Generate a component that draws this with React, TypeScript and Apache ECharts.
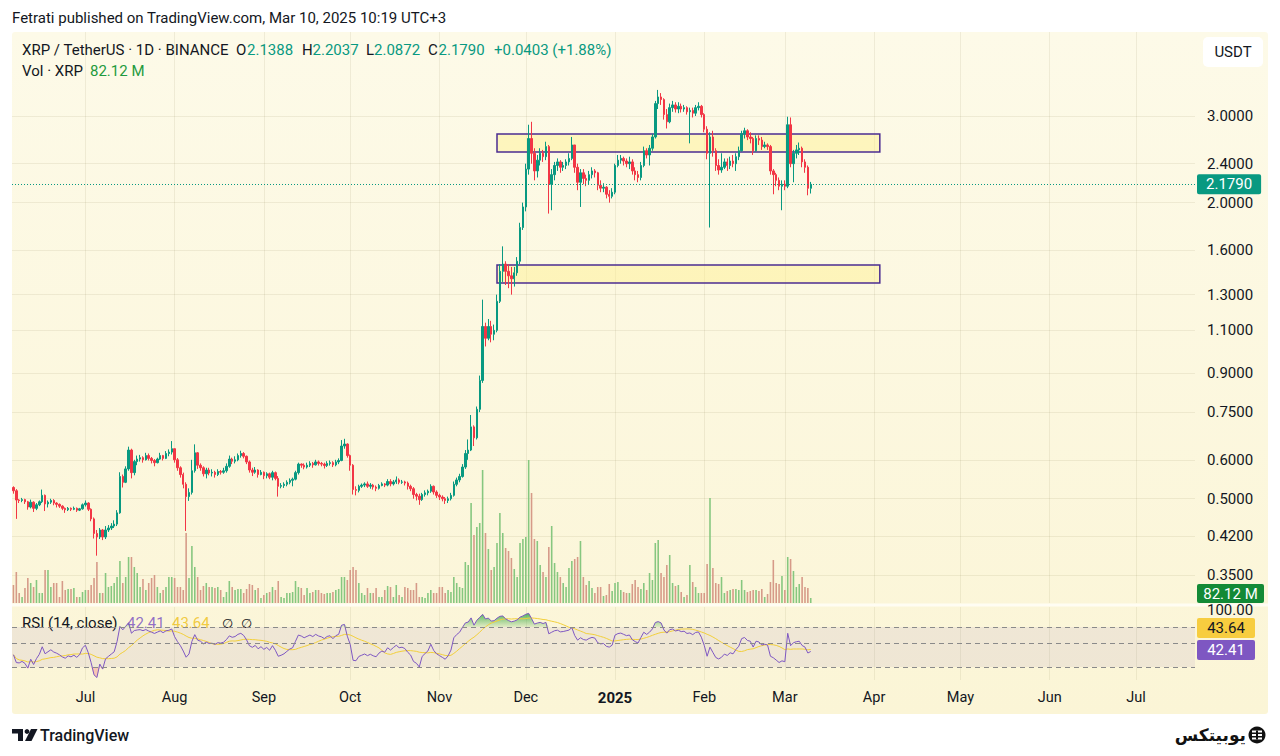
import React, { useEffect, useRef } from "react";
import * as echarts from "echarts";

const FONT = "Roboto, 'Noto Sans', 'DejaVu Sans', sans-serif";
const INK = "#131722";
const UP = "#089981";
const DOWN = "#f23645";
const VOL_UP = "#86c77f";
const VOL_DOWN = "#d69a88";
const GRID_COLOR = "rgba(120,110,60,0.10)";

const START_DATE = Date.UTC(2024, 5, 6);
const AXIS_DAYS = 411;
const FIRST_OPEN = 0.527;

// daily candles: [close, high, low]  (open = previous close)
const jun24 = [[.519,.530,.512],[.497,.523,.455],[.496,.499,.490],[.498,.502,.492],[.493,.500,.488],[.481,.495,.475],[.492,.498,.478],[.478,.494,.470],[.486,.490,.474],[.493,.496,.483],[.508,.522,.490],[.488,.510,.472],[.492,.496,.480],[.496,.500,.488],[.490,.499,.485],[.487,.492,.480],[.483,.489,.479],[.478,.485,.474],[.475,.480,.468],[.478,.481,.472],[.476,.480,.472],[.478,.482,.474],[.474,.480,.470],[.477,.479,.472],[.486,.489,.475]];
const jul24 = [[.490,.496,.482],[.476,.492,.472],[.455,.478,.450],[.425,.458,.415],[.418,.432,.383],[.432,.436,.414],[.418,.434,.412],[.432,.440,.414],[.436,.442,.428],[.440,.446,.432],[.444,.452,.436],[.468,.474,.440],[.555,.566,.466],[.540,.560,.527],[.575,.582,.538],[.628,.638,.570],[.565,.632,.550],[.595,.600,.558],[.602,.612,.585],[.606,.614,.595],[.600,.610,.592],[.612,.620,.598],[.604,.618,.598],[.598,.608,.590],[.592,.602,.582],[.602,.606,.590],[.612,.620,.600],[.604,.614,.598],[.618,.625,.602],[.622,.630,.610],[.632,.655,.615]];
const aug24 = [[.600,.630,.592],[.578,.605,.570],[.560,.582,.552],[.535,.565,.525],[.505,.540,.430],[.515,.525,.495],[.570,.600,.510],[.620,.645,.565],[.585,.622,.575],[.578,.590,.570],[.562,.582,.555],[.572,.578,.550],[.564,.578,.558],[.566,.574,.555],[.560,.570,.552],[.568,.574,.556],[.566,.572,.560],[.570,.578,.562],[.582,.590,.565],[.602,.612,.578],[.596,.606,.588],[.600,.610,.590],[.612,.618,.596],[.618,.626,.606],[.610,.622,.604],[.594,.612,.588],[.572,.598,.565],[.566,.578,.556],[.572,.580,.562],[.560,.574,.552],[.566,.572,.558]];
const sep24 = [[.557,.568,.548],[.562,.566,.550],[.553,.565,.548],[.565,.570,.545],[.550,.568,.545],[.530,.556,.505],[.532,.538,.525],[.535,.540,.526],[.540,.545,.530],[.545,.550,.535],[.548,.552,.530],[.565,.570,.545],[.588,.592,.560],[.585,.590,.578],[.580,.590,.574],[.585,.592,.576],[.590,.596,.580],[.586,.594,.578],[.594,.600,.584],[.590,.598,.584],[.588,.594,.582],[.584,.592,.576],[.590,.596,.580],[.592,.598,.584],[.586,.596,.580],[.594,.600,.582],[.598,.604,.588],[.640,.658,.596],[.646,.662,.632],[.612,.648,.606]];
const oct24 = [[.585,.615,.570],[.522,.588,.510],[.520,.530,.508],[.530,.534,.515],[.533,.537,.526],[.536,.540,.528],[.530,.542,.526],[.533,.538,.524],[.528,.536,.522],[.525,.532,.518],[.532,.536,.522],[.536,.540,.530],[.533,.538,.528],[.542,.548,.530],[.536,.548,.530],[.541,.546,.532],[.546,.555,.536],[.540,.550,.535],[.541,.546,.536],[.538,.544,.532],[.530,.542,.522],[.524,.534,.518],[.510,.528,.500],[.506,.514,.496],[.498,.512,.486],[.510,.514,.495],[.514,.520,.505],[.518,.522,.508],[.530,.535,.514],[.516,.532,.510],[.508,.520,.502]];
const nov24 = [[.504,.512,.497],[.500,.508,.494],[.496,.504,.488],[.500,.505,.490],[.508,.514,.496],[.535,.542,.505],[.546,.552,.530],[.555,.562,.540],[.580,.588,.552],[.618,.628,.575],[.628,.660,.600],[.700,.740,.625],[.665,.705,.640],[.760,.770,.660],[.870,.890,.750],[1.12,1.27,.860],[1.06,1.14,1.02],[1.12,1.16,1.05],[1.08,1.15,1.04],[1.10,1.13,1.05],[1.26,1.30,1.09],[1.45,1.50,1.25],[1.50,1.63,1.38],[1.45,1.52,1.36],[1.42,1.50,1.34],[1.40,1.48,1.30],[1.44,1.48,1.35],[1.52,1.55,1.42],[1.78,1.82,1.50],[1.96,2.00,1.76]];
const dec24 = [[2.34,2.40,1.92],[2.70,2.88,2.28],[2.52,2.92,2.40],[2.32,2.58,2.22],[2.44,2.50,2.25],[2.52,2.58,2.38],[2.48,2.56,2.42],[2.60,2.66,2.44],[2.18,2.62,1.90],[2.28,2.34,1.93],[2.38,2.42,2.22],[2.42,2.46,2.32],[2.36,2.44,2.30],[2.38,2.42,2.32],[2.42,2.45,2.34],[2.46,2.52,2.38],[2.62,2.72,2.44],[2.36,2.62,2.30],[2.20,2.40,2.12],[2.30,2.34,1.96],[2.24,2.34,2.18],[2.22,2.28,2.16],[2.28,2.32,2.18],[2.32,2.36,2.24],[2.30,2.34,2.25],[2.17,2.31,2.12],[2.14,2.22,2.10],[2.15,2.19,2.10],[2.08,2.16,2.04],[2.06,2.12,2.00],[2.10,2.14,2.04]];
const jan25 = [[2.38,2.40,2.08],[2.44,2.50,2.36],[2.46,2.50,2.40],[2.43,2.48,2.38],[2.40,2.46,2.36],[2.42,2.48,2.34],[2.32,2.45,2.28],[2.28,2.36,2.22],[2.25,2.32,2.20],[2.38,2.42,2.22],[2.55,2.60,2.36],[2.50,2.58,2.46],[2.58,2.62,2.38],[2.72,2.76,2.55],[3.18,3.22,2.70],[3.28,3.39,3.10],[3.24,3.34,3.16],[3.02,3.26,2.95],[2.92,3.10,2.83],[3.12,3.18,2.90],[3.16,3.22,3.06],[3.10,3.20,3.05],[3.14,3.20,3.04],[3.10,3.18,3.05],[3.12,3.16,3.06],[3.06,3.14,3.02],[3.08,3.12,2.64],[3.04,3.12,2.98],[3.12,3.16,3.00],[3.14,3.20,3.08],[3.02,3.16,2.98]];
const feb25 = [[2.82,3.04,2.78],[2.52,2.86,2.45],[2.72,2.78,1.78],[2.55,2.80,2.48],[2.38,2.58,2.32],[2.33,2.45,2.28],[2.36,2.52,2.30],[2.42,2.46,2.34],[2.38,2.46,2.32],[2.43,2.48,2.34],[2.40,2.50,2.36],[2.48,2.52,2.32],[2.55,2.60,2.44],[2.76,2.80,2.54],[2.80,2.84,2.70],[2.72,2.82,2.68],[2.70,2.78,2.64],[2.55,2.72,2.50],[2.70,2.74,2.54],[2.68,2.74,2.62],[2.60,2.72,2.56],[2.62,2.66,2.58],[2.60,2.64,2.56],[2.32,2.62,2.28],[2.28,2.34,2.08],[2.22,2.30,2.16],[2.16,2.25,2.12],[2.18,2.22,1.93]];
const mar25 = [[2.16,2.22,2.12],[2.88,2.99,2.14],[2.40,2.98,2.36],[2.52,2.56,2.20],[2.56,2.62,2.46],[2.58,2.65,2.50],[2.42,2.60,2.36],[2.36,2.45,2.30],[2.1388,2.38,2.07],[2.179,2.2037,2.0872]];

// daily volume, millions of XRP
const volJun24 = [295,508,164,98,246,410,328,262,377,164,164,541,541,262,328,328,98,361,213,230,230,246,98,98,180];
const volJul24 = [213,213,295,410,672,164,164,492,262,279,328,426,689,328,426,754,754,590,492,262,394,213,328,410,459,262,164,213,262,426,426];
const volAug24 = [410,262,262,213,1148,410,935,590,426,213,279,328,262,262,246,262,213,98,180,361,262,213,230,230,164,230,312,295,213,246,82];
const volSep24 = [131,164,180,262,213,361,98,82,164,164,180,361,262,246,131,246,164,180,213,213,164,148,164,164,180,213,230,426,426,377];
const volOct24 = [541,590,541,328,164,131,246,164,164,246,98,98,213,279,262,98,295,131,98,262,246,213,213,328,98,98,82,164,213,164,164];
const volNov24 = [262,262,164,213,180,426,328,262,246,672,623,1640,1115,1246,1312,2181,1148,886,541,590,984,1476,1148,902,853,738,558,426,984,1050];
const volDec24 = [1082,2345,1804,1050,1017,623,508,426,918,1263,656,508,426,328,262,574,689,722,754,1017,426,295,361,246,164,262,262,115,131,312,197];
const volJan25 = [328,344,213,180,164,164,312,377,262,230,328,213,492,377,984,1033,492,426,623,787,328,279,295,180,98,131,623,344,262,164,164];
const volFeb25 = [164,640,1722,574,328,312,426,164,197,213,230,230,213,377,213,180,197,213,213,197,230,98,148,344,705,328,312,443];
const volMar25 = [213,754,722,525,262,312,426,262,246,82.12];

const priceTicks = [3, 2.4, 2, 1.6, 1.3, 1.1, 0.9, 0.75, 0.6, 0.5, 0.42, 0.35];
const rsiTicks = [100];
const rsiLevels = [70, 50, 30];
const MONTHS = ["Jan","Feb","Mar","Apr","May","Jun","Jul","Aug","Sep","Oct","Nov","Dec"];
const zones = [
  { from: "2024-11-21", to: "2025-04-03", top: 2.757, bottom: 2.535 },
  { from: "2024-11-21", to: "2025-04-03", top: 1.493, bottom: 1.373 },
];
const LAST_PRICE = 2.179;

// ---- build ----
const categories: string[] = Array.from({ length: AXIS_DAYS }, (_, k) =>
  new Date(START_DATE + k * 86400000).toISOString().slice(0, 10)
);
const rows = [jun24, jul24, aug24, sep24, oct24, nov24, dec24, jan25, feb25, mar25].flat();
const vols = [volJun24, volJul24, volAug24, volSep24, volOct24, volNov24, volDec24, volJan25, volFeb25, volMar25].flat();

const candles: number[][] = [];
const closes: number[] = [];
let prevClose = FIRST_OPEN;
rows.forEach(([c, h, l]) => {
  const o = prevClose;
  candles.push([o, c, Math.min(l, o, c), Math.max(h, o, c)]);
  closes.push(c);
  prevClose = c;
});
const volumeData = vols.map((v, k) => ({
  value: v,
  itemStyle: { color: candles[k] && candles[k][1] >= candles[k][0] ? VOL_UP : VOL_DOWN },
}));

// RSI (14, close) as named in the chart legend, and its 14-period moving average
function rsiOf(cl: number[], period: number) {
  let ag = 0, al = 0;
  for (let k = 1; k <= period; k++) {
    const d = cl[k] - cl[k - 1];
    if (d > 0) ag += d; else al -= d;
  }
  ag /= period; al /= period;
  const out: number[] = [100 - 100 / (1 + ag / al)];
  for (let k = 1; k < cl.length; k++) {
    const d = cl[k] - cl[k - 1];
    ag = (ag * (period - 1) + Math.max(d, 0)) / period;
    al = (al * (period - 1) + Math.max(-d, 0)) / period;
    out.push(al === 0 ? 100 : 100 - 100 / (1 + ag / al));
  }
  return out;
}
function smaOf(v: number[], period: number) {
  return v.map((_, k) => {
    const s = v.slice(Math.max(0, k - period + 1), k + 1);
    return s.reduce((a, b) => a + b, 0) / s.length;
  });
}
const rsi = rsiOf(closes, 14);
const rsiMa = smaOf(rsi, 14);

const isMonthStart = (_i: number, value: string) => value.slice(8) === "01";

function txt(x: number, y: number, text: string, fill = INK, size = 15, weight: any = "normal", align = "left", family = FONT) {
  return {
    type: "text",
    silent: true,
    style: { x, y, text, fill, fontSize: size, fontWeight: weight, fontFamily: family, textAlign: align, textVerticalAlign: "middle", align, verticalAlign: "middle" },
  };
}

function buildOption() {
  const L = 12, W = 1183;
  const xAxisBase = (gridIndex: number) => ({
    type: "category",
    gridIndex,
    data: categories,
    boundaryGap: true,
    axisLine: { show: false },
    axisTick: { show: false },
    axisLabel: { show: false },
    splitLine: { show: gridIndex !== 1, interval: isMonthStart, alignWithLabel: true, lineStyle: { color: GRID_COLOR, width: 1 } },
  });
  const xRsi: any = xAxisBase(2);
  xRsi.axisLabel = {
    show: true,
    interval: isMonthStart,
    color: INK,
    fontSize: 14.5,
    fontFamily: FONT,
    margin: 10,
    formatter: (value: string) => {
      const m = +value.slice(5, 7);
      return m === 1 ? "{b|" + value.slice(0, 4) + "}" : MONTHS[m - 1];
    },
    rich: { b: { fontWeight: "bold", fontSize: 15, color: INK, fontFamily: FONT } },
  };

  const G = UP;
  const graphics: any[] = [
    txt(12, 18, "Fetrati published on TradingView.com, Mar 10, 2025 10:19 UTC+3", INK, 15),
    { type: "rect", silent: true, shape: { x: 12, y: 603.5, width: 1256, height: 3 }, style: { fill: "#fffdf3" } },
    txt(22, 50, "XRP / TetherUS · 1D · BINANCE"),
    txt(236, 50, "O"), txt(247, 50, "2.1388", G),
    txt(302, 50, "H"), txt(312.5, 50, "2.2037", G),
    txt(366, 50, "L"), txt(374, 50, "2.0872", G),
    txt(428, 50, "C"), txt(438.5, 50, "2.1790", G),
    txt(494, 50, "+0.0403 (+1.88%)", G),
    txt(22, 71, "Vol · XRP"), txt(90, 71, "82.12 M", "#1f9a3e"),
    txt(22, 623, "RSI (14, close)", INK, 15),
    txt(127, 623, "42.41", "rgba(126,87,194,0.85)", 15),
    txt(172, 623, "43.64", "rgba(240,197,46,0.9)", 15),
    txt(222, 623, "∅", INK, 13), txt(241, 623, "∅", INK, 13),
    { type: "rect", silent: true, shape: { x: 1203, y: 37, width: 60, height: 30, r: 5 }, style: { fill: "#ffffff" } },
    txt(1233, 52, "USDT", INK, 15, "normal", "center"),
    { type: "rect", silent: true, shape: { x: 1197, y: 584, width: 67, height: 19, r: 2 }, style: { fill: "#138a36" } },
    txt(1230.5, 593.5, "82.12 M", "#ffffff", 15, "normal", "center"),
    { type: "rect", silent: true, shape: { x: 1197, y: 618, width: 58, height: 20, r: 2 }, style: { fill: "#f7cd3f" } },
    txt(1226, 628, "43.64", INK, 15, "normal", "center"),
    { type: "rect", silent: true, shape: { x: 1197, y: 640, width: 58, height: 20, r: 2 }, style: { fill: "#7e57c2" } },
    txt(1226, 650, "42.41", "#ffffff", 15, "normal", "center"),
    // TradingView mark
    { type: "polygon", silent: true, shape: { points: [[12, 729], [23, 729], [23, 741], [18, 741], [18, 733.5], [12, 733.5]] }, style: { fill: INK } },
    { type: "circle", silent: true, shape: { cx: 27, cy: 731.5, r: 2.4 }, style: { fill: INK } },
    { type: "polygon", silent: true, shape: { points: [[31, 729], [37.5, 729], [31.5, 741], [25, 741]] }, style: { fill: INK } },
    txt(40, 735.5, "TradingView", INK, 16, 500),
    // Ubitex mark
    txt(1246, 735, "یوبیتکس", "#111111", 17, "bold", "right", "'DejaVu Sans', 'Noto Sans', sans-serif"),
    { type: "circle", silent: true, shape: { cx: 1257, cy: 735, r: 8.5 }, style: { fill: "#111111" } },
    { type: "rect", silent: true, shape: { x: 1252, y: 730.5, width: 10, height: 2 }, style: { fill: "#ffffff" } },
    { type: "rect", silent: true, shape: { x: 1252, y: 734, width: 10, height: 2 }, style: { fill: "#ffffff" } },
    { type: "rect", silent: true, shape: { x: 1252, y: 737.5, width: 10, height: 2 }, style: { fill: "#ffffff" } },
    { type: "rect", silent: true, shape: { x: 1256, y: 730.5, width: 2, height: 9 }, style: { fill: "#111111" } },
  ];

  return {
    animation: false,
    backgroundColor: "transparent",
    textStyle: { fontFamily: FONT },
    grid: [
      { left: L, width: W, top: 32, height: 571 },
      { left: L, width: W, top: 440, height: 163 },
      { left: L, width: W, top: 607, height: 73 },
    ],
    xAxis: [xAxisBase(0), xAxisBase(1), xRsi],
    yAxis: [
      {
        type: "log", logBase: 10, gridIndex: 0, position: "right", min: 0.3069, max: 4.446,
        axisLine: { show: false },
        axisTick: { show: false, customValues: priceTicks },
        axisLabel: { customValues: priceTicks, formatter: (v: number) => Number(v).toFixed(4), color: INK, fontSize: 15, fontFamily: FONT, margin: 12 },
        splitLine: { show: true, lineStyle: { color: GRID_COLOR, width: 1 } },
      },
      { type: "value", gridIndex: 1, min: 0, max: 2673, show: false },
      {
        type: "log", logBase: 10, gridIndex: 2, position: "right", min: 22.8, max: 106.9,
        axisLine: { show: false },
        axisTick: { show: false, customValues: rsiTicks },
        axisLabel: { customValues: rsiTicks, formatter: (v: number) => Number(v).toFixed(2), color: INK, fontSize: 15, fontFamily: FONT, margin: 12 },
        splitLine: { show: false },
      },
    ],
    series: [
      {
        type: "bar", name: "Vol", xAxisIndex: 1, yAxisIndex: 1, data: volumeData,
        barWidth: "55%", silent: true, z: 1,
      },
      {
        type: "candlestick", name: "XRPUSDT", xAxisIndex: 0, yAxisIndex: 0, data: candles,
        barWidth: "68%", silent: true, z: 3,
        itemStyle: { color: UP, color0: DOWN, borderColor: UP, borderColor0: DOWN, borderWidth: 1 },
        markLine: {
          silent: true, symbol: ["none", "none"], animation: false,
          lineStyle: { color: UP, type: [1, 2], width: 1 },
          label: {
            show: true, position: "end", formatter: () => "2.1790", color: "#ffffff",
            backgroundColor: UP, padding: [3, 9, 2, 9], borderRadius: 2, fontSize: 15, fontFamily: FONT, distance: 2,
          },
          data: [{ yAxis: LAST_PRICE }],
        },
        markArea: {
          silent: true,
          itemStyle: { color: "rgba(255,240,140,0.45)", borderColor: "#4b2c91", borderWidth: 1.5 },
          data: zones.map((z) => [{ xAxis: z.from, yAxis: z.top }, { xAxis: z.to, yAxis: z.bottom }]),
        },
      },
      {
        type: "line", name: "OB", xAxisIndex: 2, yAxisIndex: 2, data: rsi.map((v) => Math.max(v, 70)),
        showSymbol: false, silent: true, lineStyle: { width: 0, opacity: 0 }, z: 2,
        areaStyle: {
          origin: 70,
          opacity: 1,
          color: new echarts.graphic.LinearGradient(0, 0, 0, 1, [
            { offset: 0, color: "rgba(56,170,70,0.85)" },
            { offset: 1, color: "rgba(76,175,80,0.15)" },
          ]),
        },
      },
      {
        type: "line", name: "OS", xAxisIndex: 2, yAxisIndex: 2, data: rsi.map((v) => Math.min(v, 30)),
        showSymbol: false, silent: true, lineStyle: { width: 0, opacity: 0 }, z: 2,
        areaStyle: { origin: 30, color: "rgba(242,54,69,0.35)" },
      },
      {
        type: "line", name: "RSI", xAxisIndex: 2, yAxisIndex: 2, data: rsi,
        showSymbol: false, silent: true, z: 4,
        lineStyle: { color: "#7e57c2", width: 1 },
        markArea: {
          silent: true,
          itemStyle: { color: "rgba(126,87,194,0.09)" },
          data: [[{ yAxis: 70 }, { yAxis: 30 }]],
        },
        markLine: {
          silent: true, symbol: ["none", "none"],
          label: { show: false },
          lineStyle: { color: "#8a8a8a", type: [5, 4], width: 1 },
          data: rsiLevels.map((v) => ({ yAxis: v })),
        },
      },
      {
        type: "line", name: "RSI MA", xAxisIndex: 2, yAxisIndex: 2, data: rsiMa,
        showSymbol: false, silent: true, z: 3,
        lineStyle: { color: "#f2cf3a", width: 1 },
      },
    ],
    graphic: { elements: graphics },
  };
}

export default function App() {
  const ref = useRef<HTMLDivElement>(null);
  useEffect(() => {
    document.body.style.margin = "0";
    const chart = echarts.init(ref.current as HTMLDivElement, null, { renderer: "svg" });
    chart.setOption(buildOption() as any);
    return () => chart.dispose();
  }, []);
  return (
    <div style={{ position: "relative", width: 1280, height: 756, background: "#ffffff", overflow: "hidden" }}>
      <div
        style={{
          position: "absolute", left: 12, top: 32, width: 1256, height: 682,
          background: "linear-gradient(#fdfae8, #fbf5d6)", borderRadius: 3,
        }}
      />
      <div ref={ref} style={{ position: "absolute", left: 0, top: 0, width: 1280, height: 756 }} />
    </div>
  );
}
